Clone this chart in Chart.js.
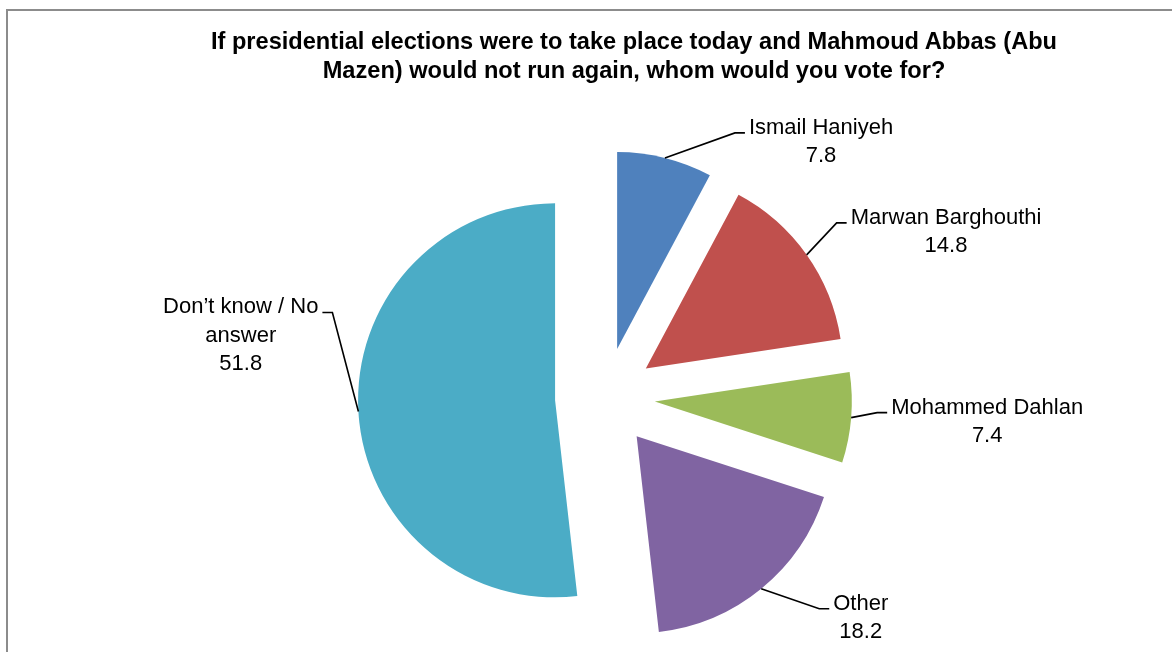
<!DOCTYPE html>
<html><head><meta charset="utf-8">
<script src="https://cdn.jsdelivr.net/npm/chart.js@4.4.1/dist/chart.umd.min.js"></script>
<style>
html,body{margin:0;padding:0;background:#fff;overflow:hidden;width:1172px;height:652px;}
#frame{position:absolute;left:6px;top:9px;width:1300px;height:800px;border-left:2px solid #8c8c8c;border-top:2px solid #8c8c8c;}
#title{position:absolute;left:0;width:1268px;top:27px;text-align:center;font:bold 23.6px "Liberation Sans",Arial,sans-serif;line-height:29px;color:#000;}
canvas{position:absolute;left:0;top:0;}
</style></head><body>
<div id="frame"></div>
<canvas id="c" width="1172" height="652"></canvas>
<div id="title">If presidential elections were to take place today and Mahmoud Abbas (Abu<br>Mazen) would not run again, whom would you vote for?</div>
<script>
// ---- data ----
const categories = ['Ismail Haniyeh', 'Marwan Barghouthi', 'Mohammed Dahlan', 'Other', ['Don\u2019t know / No', 'answer']];
const values = [7.8, 14.8, 7.4, 18.2, 51.8];
const colors = ['#4F81BD', '#C0504D', '#9BBB59', '#8064A2', '#4BACC6'];

// ---- layout / style ----
const EXPLODE = 50;        // px each slice is pulled out
const RADIUS = 197;
const leaderOffsets = [[70, -25], [30, -32], [26, -5], [58, 20], [-26, -99]];
const LEADER_TAIL = 10;
const TEXT_GAP = 4;
const LINE_H = 28.5;
const LABEL_FONT = '22px "Liberation Sans", Arial, sans-serif';

const explodePlugin = {
  id: 'explode',
  afterDatasetsUpdate(chart) {
    chart.getDatasetMeta(0).data.forEach(arc => {
      const mid = (arc.startAngle + arc.endAngle) / 2;
      arc.x += Math.cos(mid) * EXPLODE;
      arc.y += Math.sin(mid) * EXPLODE;
    });
  }
};

const labelPlugin = {
  id: 'pieLabels',
  afterDatasetsDraw(chart) {
    const ctx = chart.ctx;
    const meta = chart.getDatasetMeta(0);
    const labels = chart.data.labels;
    const data = chart.data.datasets[0].data;
    ctx.save();
    ctx.font = LABEL_FONT;
    ctx.fillStyle = '#000';
    ctx.strokeStyle = '#000';
    ctx.lineWidth = 1.6;
    meta.data.forEach((arc, i) => {
      const mid = (arc.startAngle + arc.endAngle) / 2;
      const r = arc.outerRadius;
      const ax = arc.x + Math.cos(mid) * r;
      const ay = arc.y + Math.sin(mid) * r;
      const [ox, oy] = leaderOffsets[i];
      const ex = ax + ox, ey = ay + oy;
      const side = ox >= 0 ? 1 : -1;
      const tx = ex + side * LEADER_TAIL;
      ctx.beginPath();
      ctx.moveTo(ax, ay);
      ctx.lineTo(ex, ey);
      ctx.lineTo(tx, ey);
      ctx.stroke();
      const name = labels[i];
      const lines = (Array.isArray(name) ? name : [name]).concat([data[i].toFixed(1)]);
      const maxW = Math.max(...lines.map(l => ctx.measureText(l).width));
      const cx = side > 0 ? tx + TEXT_GAP + maxW / 2 : tx - TEXT_GAP - maxW / 2;
      ctx.textAlign = 'center';
      ctx.textBaseline = 'alphabetic';
      lines.forEach((l, k) => ctx.fillText(l, cx, ey + 1 + k * LINE_H));
    });
    ctx.restore();
  }
};

new Chart(document.getElementById('c'), {
  type: 'pie',
  data: {
    labels: categories,
    datasets: [{
      data: values,
      backgroundColor: colors,
      borderWidth: 0,
      radius: RADIUS
    }]
  },
  options: {
    responsive: false,
    animation: false,
    events: [],
    devicePixelRatio: 1,
    layout: { padding: { left: 38, right: 0, top: 143, bottom: 0 } },
    plugins: {
      legend: { display: false },
      tooltip: { enabled: false },
      title: { display: false }
    }
  },
  plugins: [explodePlugin, labelPlugin]
});
</script>
</body></html>
